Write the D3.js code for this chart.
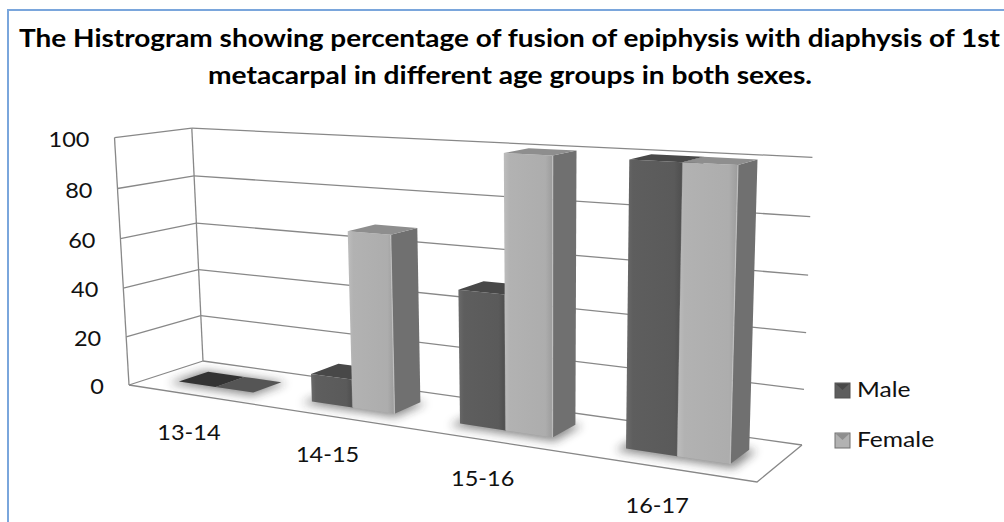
<!DOCTYPE html>
<html>
<head>
<meta charset="utf-8">
<script src="https://cdn.jsdelivr.net/npm/d3@7"></script>
<style>
  body { margin: 0; background: #fff; }
  svg { display: block; }
  text { font-family: Lato, "Open Sans", sans-serif; fill: #111; }
</style>
</head>
<body>
<div id="chart"></div>
<script>
var categories = ["13-14", "14-15", "15-16", "16-17"];
var seriesNames = ["Male", "Female"];
var maleValues = [0, 11, 50, 100];
var femaleValues = [0, 68, 100, 100];
var yTicks = [0, 20, 40, 60, 80, 100];
var titleLines = [
  "The Histrogram showing percentage of fusion of epiphysis with diaphysis of 1st",
  "metacarpal in different age groups in both sexes."
];

var width = 1004, height = 522;

var svg = d3.select("#chart")
  .append("svg")
  .attr("width", width)
  .attr("height", height);

var defs = svg.append("defs");
defs.append("filter").attr("id", "soft")
  .attr("x", "-50%").attr("y", "-50%").attr("width", "200%").attr("height", "200%")
  .append("feGaussianBlur").attr("stdDeviation", 5);

// colours per series: front gradient, side, top, flat (zero height)
var colors = {
  Male:   { front: ["#6a6a6a", "#5e5e5e", "#5a5a5a", "#4e4e4e"], side: "#525252", top: "#484848", flat: "#333", edge: "#6e6e6e" },
  Female: { front: ["#bdbdbd", "#b2b2b2", "#adadad", "#9c9c9c"], side: "#707070", top: "#8e8e8e", flat: "#555", edge: "#c4c4c4" }
};
seriesNames.forEach(function(s) {
  var g = defs.append("linearGradient").attr("id", "grad" + s)
    .attr("x1", 0).attr("x2", 1).attr("y1", 0).attr("y2", 0);
  [0, 0.12, 0.85, 1].forEach(function(o, i) {
    g.append("stop").attr("offset", o).attr("stop-color", colors[s].front[i]);
  });
});

// frame
svg.append("path")
  .attr("d", "M8,522 V10 H1004")
  .attr("fill", "none")
  .attr("stroke", "#7aa6dc")
  .attr("stroke-width", 2);

// title
titleLines.forEach(function(t, i) {
  svg.append("text")
    .attr("x", i === 0 ? 19 : 208)
    .attr("y", i === 0 ? 47 : 84)
    .attr("textLength", i === 0 ? 981 : 604)
    .attr("lengthAdjust", "spacingAndGlyphs")
    .style("font-size", "24px")
    .style("font-weight", "bold")
    .style("fill", "#000")
    .text(t);
});

//////////
// 3D PROJECTION //
//////////

// floor corners on screen: front-left, front-right, back-right, back-left
var floorQuad = [[129, 385], [757, 482], [802, 445], [203, 361]];
// where the walls reach 100 (u: along categories, w: depth)
var wallTops = [
  { u: 0, w: 0, p: [118, 137] },
  { u: 0, w: 1, p: [188, 133] },
  { u: 1, w: 1, p: [813, 152] }
];

function squareToQuad(q) {
  var x0 = q[0][0], y0 = q[0][1], x1 = q[1][0], y1 = q[1][1],
      x2 = q[2][0], y2 = q[2][1], x3 = q[3][0], y3 = q[3][1];
  var dx1 = x1 - x2, dx2 = x3 - x2, dx3 = x0 - x1 + x2 - x3,
      dy1 = y1 - y2, dy2 = y3 - y2, dy3 = y0 - y1 + y2 - y3;
  var den = dx1 * dy2 - dx2 * dy1;
  var g = (dx3 * dy2 - dx2 * dy3) / den,
      h = (dx1 * dy3 - dx3 * dy1) / den;
  return { a: x1 - x0 + g * x1, b: x3 - x0 + h * x3, c: x0,
           d: y1 - y0 + g * y1, e: y3 - y0 + h * y3, f: y0, g: g, h: h };
}
var H = squareToQuad(floorQuad);
function base(u, w) {
  return [H.a * u + H.b * w + H.c, H.d * u + H.e * w + H.f, H.g * u + H.h * w + 1];
}

// vertical column of the projection, least squares on the wall tops
var rows = [], rhs = [];
wallTops.forEach(function(t) {
  var b = base(t.u, t.w);
  rows.push([1, 0, -t.p[0]]); rhs.push(t.p[0] * b[2] - b[0]);
  rows.push([0, 1, -t.p[1]]); rhs.push(t.p[1] * b[2] - b[1]);
});
function solve3(A, B) {
  var M = A.map(function(r, i) { return r.concat([B[i]]); });
  for (var i = 0; i < 3; i++) {
    var piv = i;
    for (var k = i + 1; k < 3; k++) if (Math.abs(M[k][i]) > Math.abs(M[piv][i])) piv = k;
    var tmp = M[i]; M[i] = M[piv]; M[piv] = tmp;
    for (var k = 0; k < 3; k++) {
      if (k === i) continue;
      var f = M[k][i] / M[i][i];
      for (var j = i; j < 4; j++) M[k][j] -= f * M[i][j];
    }
  }
  return [M[0][3] / M[0][0], M[1][3] / M[1][1], M[2][3] / M[2][2]];
}
var AtA = [[0, 0, 0], [0, 0, 0], [0, 0, 0]], Atb = [0, 0, 0];
rows.forEach(function(r, k) {
  for (var i = 0; i < 3; i++) {
    Atb[i] += r[i] * rhs[k];
    for (var j = 0; j < 3; j++) AtA[i][j] += r[i] * r[j];
  }
});
var P = solve3(AtA, Atb);

var x = d3.scaleBand().domain(categories).range([0, 1]);
var xSub = d3.scaleBand().domain(seriesNames).range([0, x.bandwidth()])
  .paddingInner(0).paddingOuter(0.75);
var y = d3.scaleLinear().domain([0, 100]).range([0, 1]);
var depth = [0.3, 0.7];

function proj(u, w, val) {
  var b = base(u, w), t = y(val);
  var W = b[2] + t * P[2];
  return [(b[0] + t * P[0]) / W, (b[1] + t * P[1]) / W];
}
function poly(pts) { return "M" + pts.map(function(p) { return p[0].toFixed(1) + "," + p[1].toFixed(1); }).join("L") + "Z"; }
function seg(a, b) { return "M" + a[0].toFixed(1) + "," + a[1].toFixed(1) + "L" + b[0].toFixed(1) + "," + b[1].toFixed(1); }

//////////
// WALLS AND FLOOR //
//////////

var grid = svg.append("g")
  .attr("fill", "none")
  .attr("stroke", "#888")
  .attr("stroke-width", 1.3);

yTicks.forEach(function(v) {
  grid.append("path").attr("d", seg(proj(0, 0, v), proj(0, 1, v)));
  grid.append("path").attr("d", seg(proj(0, 1, v), proj(1, 1, v)));
});
grid.append("path").attr("d", seg(proj(0, 0, 0), proj(0, 0, 100)));
grid.append("path").attr("d", seg(proj(0, 1, 0), proj(0, 1, 100)));
grid.append("path").attr("d", "M" + [proj(0, 0, 0), proj(1, 0, 0), proj(1, 1, 0)].map(function(p) { return p.join(","); }).join("L"));

// axis labels
function label(txt, p, anchor, size) {
  svg.append("text")
    .attr("transform", "translate(" + p[0] + "," + p[1] + ") scale(1.12,1)")
    .attr("text-anchor", anchor)
    .attr("dominant-baseline", "middle")
    .style("font-size", size + "px")
    .text(txt);
}
yTicks.forEach(function(v) {
  var p = proj(0, 0, v);
  label(v, [p[0] - 25, p[1] + 4], "end", 21);
});
categories.forEach(function(c) {
  var p = proj(x(c) + x.bandwidth() / 2, 0, 0);
  label(c, [p[0] - 4, p[1] + 40], "middle", 21);
});

//////////
// BARS //
//////////

var bars = [];
categories.forEach(function(c, i) {
  bars.push({ cat: c, series: "Male", value: maleValues[i] });
  bars.push({ cat: c, series: "Female", value: femaleValues[i] });
});

// soft shadows on the floor
var shadows = svg.append("g").attr("filter", "url(#soft)").attr("opacity", 0.55);
bars.forEach(function(d) {
  var u0 = x(d.cat) + xSub(d.series) - 0.008, u1 = x(d.cat) + xSub(d.series) + xSub.bandwidth() + 0.01;
  shadows.append("path")
    .attr("d", poly([proj(u0, depth[0] - 0.08, 0), proj(u1, depth[0] - 0.08, 0),
                     proj(u1, depth[1], 0), proj(u0, depth[1], 0)]))
    .attr("fill", "#262626");
});

bars.forEach(function(d) {
  var u0 = x(d.cat) + xSub(d.series), u1 = u0 + xSub.bandwidth();
  var w0 = depth[0], w1 = depth[1], v = d.value;
  var g = svg.append("g");
  var col = colors[d.series];
  if (v > 0) {
    g.append("path")
      .attr("d", poly([proj(u1, w0, 0), proj(u1, w1, 0), proj(u1, w1, v), proj(u1, w0, v)]))
      .attr("fill", col.side);
    g.append("path")
      .attr("d", poly([proj(u0, w0, 0), proj(u1, w0, 0), proj(u1, w0, v), proj(u0, w0, v)]))
      .attr("fill", "url(#grad" + d.series + ")");
    g.append("path")
      .attr("d", seg(proj(u1, w0, 0), proj(u1, w0, v)))
      .attr("stroke", col.edge)
      .attr("stroke-width", 1.2)
      .attr("opacity", 0.8);
  }
  g.append("path")
    .attr("d", poly([proj(u0, w0, v), proj(u1, w0, v), proj(u1, w1, v), proj(u0, w1, v)]))
    .attr("fill", v > 0 ? col.top : col.flat);
});

//////////
// LEGEND //
//////////

var legend = svg.selectAll(".legend")
  .data(seriesNames)
  .enter().append("g")
  .attr("class", "legend")
  .attr("transform", function(d, i) { return "translate(835," + (383 + i * 50) + ")"; });

legend.append("rect")
  .attr("width", 15).attr("height", 15)
  .attr("fill", function(d) { return colors[d].front[1]; })
  .attr("stroke", function(d) { return colors[d].side; })
  .attr("stroke-width", 1);
legend.append("path")
  .attr("d", "M1,1 L14,1 L7.5,7 Z")
  .attr("fill", function(d) { return colors[d].top; });
legend.append("text")
  .attr("transform", "translate(22,8) scale(1.12,1)")
  .attr("dominant-baseline", "middle")
  .style("font-size", "22px")
  .text(function(d) { return d; });
</script>
</body>
</html>
